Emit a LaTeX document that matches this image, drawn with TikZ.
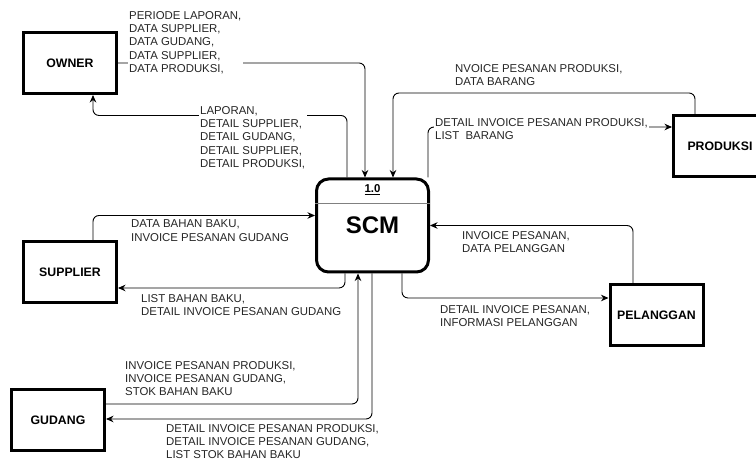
\documentclass[tikz,border=0pt]{standalone}
\usepackage{fontspec}
\setmainfont{Liberation Sans}
\usetikzlibrary{arrows.meta}
\begin{document}
\begin{tikzpicture}[x=1pt,y=1pt,
  entity/.style={draw, line width=3pt, minimum width=93pt, minimum height=61pt,
    inner sep=0pt, font=\fontsize{12.3}{14}\selectfont\bfseries},
  process/.style={draw, line width=3pt, rounded corners=12pt, minimum width=112pt,
    minimum height=93pt, inner sep=0pt, font=\fontsize{24}{28}\selectfont\bfseries},
  flow/.style={line width=0.9pt, rounded corners=6pt, -{Stealth[length=7.5pt,width=6.5pt]}},
  flowlabel/.style={anchor=north west, align=left, inner sep=1.5pt, fill=white,
    text=black!85, font=\fontsize{11.4}{13.4}\selectfont}
]
\useasboundingbox (0,0) rectangle (756,462);

% external entities
\node[entity] (owner)     at (70,399)    {OWNER};
\node[entity] (supplier)  at (70,189.5)  {SUPPLIER};
\node[entity] (gudang)    at (58,41.5)   {GUDANG};
\node[entity] (pelanggan) at (656.5,147) {PELANGGAN};
\node[entity] (produksi)  at (720,316)   {PRODUKSI};

% central process
\node[process] (scm) at (372.5,236.5) {SCM};
\draw[gray, line width=0.8pt] ([yshift=-26pt]scm.north west) -- ([yshift=-26pt]scm.north east);
\node[font=\fontsize{11.4}{13}\selectfont\bfseries, inner sep=0pt] (num) at ([yshift=-12pt]scm.north) {\underline{1.0}};

% data flows
\draw[flow] (owner.east) -| ([xshift=-7.5pt]scm.north);
\draw[flow] ([xshift=-25.5pt]scm.north) -- ++(0,62) -| ([xshift=23pt]owner.south);
\draw[flow] ([xshift=-25pt]produksi.north) -- ++(0,21) -| ([xshift=20.5pt]scm.north);
\draw[flow] ([xshift=-2pt]scm.north east) |- ([yshift=19pt]produksi.west);
\draw[flow] ([xshift=23pt]supplier.north) |- ([yshift=10pt]scm.west);
\draw[flow] ([xshift=-27.5pt]scm.south) |- ([yshift=-15.5pt]supplier.east);
\draw[flow] ([yshift=16.5pt]gudang.east) -| ([xshift=-14.5pt]scm.south);
\draw[flow] ([xshift=-0.5pt]scm.south) |- ([yshift=1.5pt]gudang.east);
\draw[flow] ([xshift=29.5pt]scm.south) |- ([yshift=17pt]pelanggan.west);
\draw[flow] ([xshift=-23.5pt]pelanggan.north) |- (scm.east);

% flow labels
\node[flowlabel] (l1) at (127.5,452.6) {PERIODE LAPORAN,\\DATA SUPPLIER,\\DATA GUDANG,\\DATA SUPPLIER,\\DATA PRODUKSI,};
\node[flowlabel] (l2) at (198.5,357.6) {LAPORAN,\\DETAIL SUPPLIER,\\DETAIL GUDANG,\\DETAIL SUPPLIER,\\DETAIL PRODUKSI,};
\node[flowlabel] (l3) at (453.5,399.6) {NVOICE PESANAN PRODUKSI,\\DATA BARANG};
\node[flowlabel] (l4) at (433.5,345.6) {DETAIL INVOICE PESANAN PRODUKSI,\\LIST\ \ BARANG};
\node[flowlabel] (l5) at (129.5,243.6) {DATA BAHAN BAKU,\\INVOICE PESANAN GUDANG};
\node[flowlabel] (l6) at (139.5,169.6) {LIST BAHAN BAKU,\\DETAIL INVOICE PESANAN GUDANG};
\node[flowlabel] (l7) at (460.5,232.6) {INVOICE PESANAN,\\DATA PELANGGAN};
\node[flowlabel] (l8) at (438.5,158.6) {DETAIL INVOICE PESANAN,\\INFORMASI PELANGGAN};
\node[flowlabel] (l9) at (123.5,102.6) {INVOICE PESANAN PRODUKSI,\\INVOICE PESANAN GUDANG,\\STOK BAHAN BAKU};
\node[flowlabel] (l10) at (164.5,39.6) {DETAIL INVOICE PESANAN PRODUKSI,\\DETAIL INVOICE PESANAN GUDANG,\\LIST STOK BAHAN BAKU};
\end{tikzpicture}
\end{document}
